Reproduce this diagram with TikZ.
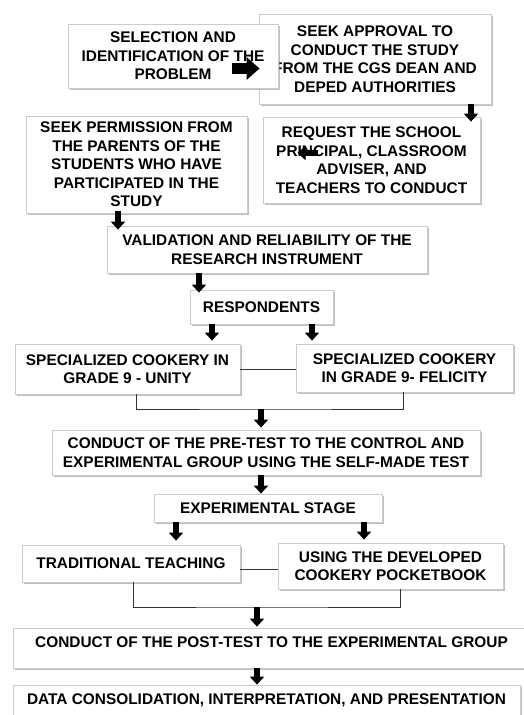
\documentclass[tikz,border=0pt]{standalone}
\usepackage{fontspec}
\setmainfont{Liberation Sans}
\usetikzlibrary{arrows.meta,shadows}

\begin{document}
\begin{tikzpicture}[x=1pt, y=-1pt,
    box/.style={draw=gray!40, fill=white, line width=0.8pt, align=center, inner sep=2pt,
        font=\bfseries\fontsize{15.4}{18.5}\selectfont,
        drop shadow={shadow xshift=1.5pt, shadow yshift=-2pt, opacity=0.5, fill=gray}},
    flow/.style={-{Triangle[length=8pt, width=14pt]}, line width=5.5pt},
    bigflow/.style={-{Triangle[length=13pt, width=22pt]}, line width=11pt},
    link/.style={line width=0.9pt, black!80}]
    % Page frame
    \clip (0,0) rectangle (524,715);
    \fill[white] (0,0) rectangle (524,715);

    % Top row
    \node[box, minimum width=232pt, minimum height=90pt] (appr) at (375,59)
        {SEEK APPROVAL TO\\CONDUCT THE STUDY\\FROM THE CGS DEAN AND\\DEPED AUTHORITIES};
    \node[box, minimum width=210pt, minimum height=64pt] (sel) at (173,56)
        {SELECTION AND\\IDENTIFICATION OF THE\\PROBLEM};
    \draw[bigflow] ([xshift=-46pt, yshift=-12.5pt]sel.east) -- ([xshift=1pt, yshift=-9.5pt]appr.west);

    % Second row
    \node[box, minimum width=221pt, minimum height=97pt] (perm) at (136.5,164.5)
        {SEEK PERMISSION FROM\\THE PARENTS OF THE\\STUDENTS WHO HAVE\\PARTICIPATED IN THE\\STUDY};
    \node[box, minimum width=217pt, minimum height=86pt] (req) at (371.5,160)
        {REQUEST THE SCHOOL\\PRINCIPAL, CLASSROOM\\ADVISER, AND\\TEACHERS TO CONDUCT};
    \draw[flow] ([xshift=96pt]appr.south) -- ([xshift=99.5pt, yshift=-5pt]req.north);
    \draw[flow] ([xshift=55pt, yshift=7pt]req.west) -- ([xshift=35pt, yshift=7pt]req.west);

    % Instrument and respondents
    \node[box, minimum width=320pt, minimum height=47pt] (valid) at (267,249.5)
        {VALIDATION AND RELIABILITY OF THE\\RESEARCH INSTRUMENT};
    \draw[flow] ([xshift=-18.5pt, yshift=2pt]perm.south) -- ([xshift=-149pt, yshift=-4pt]valid.north);
    \node[box, minimum width=143pt, minimum height=34pt] (resp) at (261.5,307) {RESPONDENTS};
    \draw[flow] ([xshift=-68pt]valid.south) -- ([xshift=-62.5pt, yshift=-3pt]resp.north);

    % Groups
    \node[box, minimum width=225pt, minimum height=50pt] (unity) at (127.5,369)
        {SPECIALIZED COOKERY IN\\GRADE 9 - UNITY};
    \node[box, minimum width=217pt, minimum height=48pt] (felic) at (404.5,368)
        {SPECIALIZED COOKERY\\IN GRADE 9- FELICITY};
    \draw[flow] ([xshift=-49.5pt]resp.south) -- ([xshift=84.5pt, yshift=3pt]unity.north);
    \draw[flow] ([xshift=50.5pt]resp.south) -- ([xshift=-92.5pt, yshift=3pt]felic.north);
    \draw[link] (unity.east) -- (unity.east -| felic.west);

    % Pre-test
    \coordinate (joinA) at (261,409);
    \draw[link] ([xshift=8.5pt]unity.south) |- (joinA) -| ([xshift=-1.5pt]felic.south);
    \node[box, minimum width=428pt, minimum height=45pt] (pre) at (266,452.5)
        {CONDUCT OF THE PRE-TEST TO THE CONTROL AND\\EXPERIMENTAL GROUP USING THE SELF-MADE TEST};
    \draw[flow] (joinA) -- ([xshift=-5pt, yshift=2pt]pre.north);

    % Experimental stage
    \node[box, minimum width=228pt, minimum height=28pt] (expt) at (268,508) {EXPERIMENTAL STAGE};
    \draw[flow] ([xshift=-5pt]pre.south) -- ([xshift=-7pt]expt.north);
    \node[box, minimum width=218pt, minimum height=37pt] (trad) at (131,563.5) {TRADITIONAL TEACHING};
    \node[box, minimum width=225pt, minimum height=46pt] (pocket) at (390.5,566)
        {USING THE DEVELOPED\\COOKERY POCKETBOOK};
    \draw[flow] ([xshift=-92pt]expt.south) -- ([xshift=45pt, yshift=4pt]trad.north);
    \draw[flow] ([xshift=96pt]expt.south) -- ([xshift=-26.5pt, yshift=3pt]pocket.north);
    \draw[link] ([yshift=-5.5pt]trad.east) -- ([yshift=-5.5pt]trad.east -| pocket.west);

    % Post-test and data
    \coordinate (joinB) at (257,607);
    \draw[link] ([xshift=2pt]trad.south) |- (joinB) -| ([xshift=9.5pt]pocket.south);
    \node[box, minimum width=517pt, minimum height=40pt, text depth=12pt] (post) at (271.5,648)
        {CONDUCT OF THE POST-TEST TO THE EXPERIMENTAL GROUP};
    \draw[flow] (joinB) -- ([xshift=-14.5pt, yshift=1pt]post.north);
    \node[box, minimum width=507pt, minimum height=40pt, text depth=12pt] (data) at (266.5,705)
        {DATA CONSOLIDATION, INTERPRETATION, AND PRESENTATION};
    \draw[flow] ([xshift=-14.5pt]post.south) -- ([xshift=-9.5pt]data.north);
\end{tikzpicture}
\end{document}
